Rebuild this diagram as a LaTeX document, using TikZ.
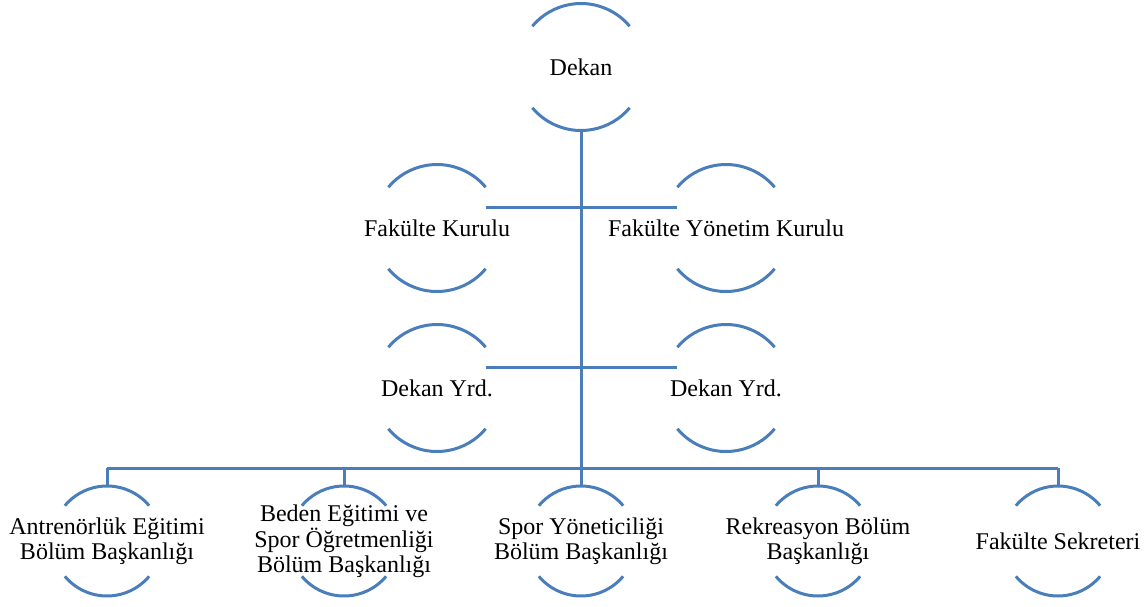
\documentclass[tikz,border=0pt]{standalone}
\usepackage{fontspec}
\setmainfont{Liberation Serif}
\begin{document}
\begin{tikzpicture}[x=0.5pt,y=0.5pt,
  arcline/.style={draw=orgblue, line width=1.5pt},
  conn/.style={draw=orgblue, line width=1.5pt},
  bigc/.style={circle, minimum size=63.5pt, inner sep=0pt, outer sep=0pt},
  smallc/.style={circle, minimum size=55pt, inner sep=0pt, outer sep=0pt},
  txt/.style={align=center, inner sep=0pt, font=\fontsize{12}{12.3}\selectfont}]
\definecolor{orgblue}{RGB}{74,126,187}
\useasboundingbox (0,0) rectangle (1147,-606);
% big nodes
\node[bigc] (dekan) at (581,-67) {};
\node[bigc] (fk)  at (437,-228) {};
\node[bigc] (fyk) at (726,-228) {};
\node[bigc] (dy1) at (437,-388) {};
\node[bigc] (dy2) at (726,-388) {};
\foreach \n in {dekan,fk,fyk,dy1,dy2}{
  \draw[arcline] (\n.40) arc[start angle=40, end angle=140, radius=31.75pt];
  \draw[arcline] (\n.220) arc[start angle=220, end angle=320, radius=31.75pt];
}
% small nodes
\node[smallc] (b1) at (107,-541) {};
\node[smallc] (b2) at (344,-541) {};
\node[smallc] (b3) at (581,-541) {};
\node[smallc] (b4) at (818,-541) {};
\node[smallc] (b5) at (1058,-541) {};
\foreach \n in {b1,b2,b3,b4,b5}{
  \draw[arcline] (\n.40) arc[start angle=40, end angle=140, radius=27.5pt];
  \draw[arcline] (\n.220) arc[start angle=220, end angle=320, radius=27.5pt];
}
% texts
\node[txt] (dekan-t) at (dekan) {Dekan};
\node[txt] (fk-t) at (fk) {Fakülte Kurulu};
\node[txt] (fyk-t) at (fyk) {Fakülte Yönetim Kurulu};
\node[txt] (dy1-t) at (dy1) {Dekan Yrd.};
\node[txt] (dy2-t) at (dy2) {Dekan Yrd.};
\node[txt] (b1-t) at (b1) {Antrenörlük Eğitimi\\Bölüm Başkanlığı};
\node[txt] (b2-t) at (b2) {Beden Eğitimi ve\\Spor Öğretmenliği\\Bölüm Başkanlığı};
\node[txt] (b3-t) at (b3) {Spor Yöneticiliği\\Bölüm Başkanlığı};
\node[txt] (b4-t) at (b4) {Rekreasyon Bölüm\\Başkanlığı};
\node[txt] (b5-t) at (b5) {Fakülte Sekreteri};
% connectors
\coordinate (j1) at (581,-207);
\coordinate (j2) at (581,-367);
\coordinate (bus) at (581,-468);
\draw[conn] (dekan.south) -- (bus);
\draw[conn] (fk.40 |- j1) -- (fyk.140 |- j1);
\draw[conn] (dy1.40 |- j2) -- (dy2.140 |- j2);
\draw[conn] (b1.north |- bus) -- (b5.north |- bus);
\foreach \n in {b1,b2,b3,b4,b5}{
  \draw[conn] (\n.north |- bus) -- (\n.north);
}
\end{tikzpicture}
\end{document}
